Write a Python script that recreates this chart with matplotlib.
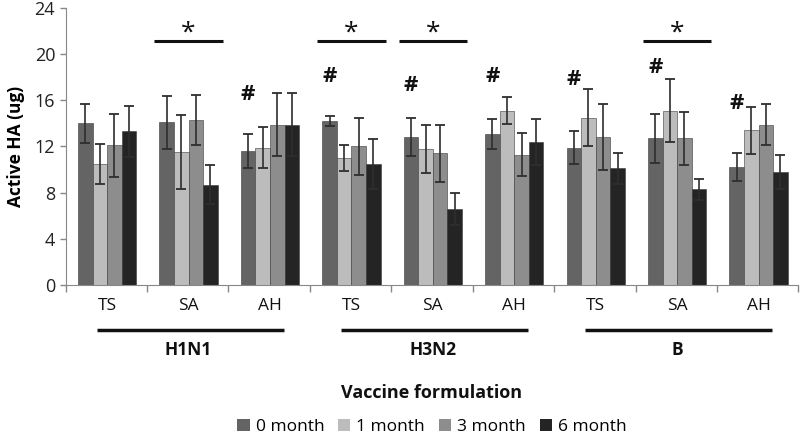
import numpy as np
import matplotlib.pyplot as plt
from matplotlib.patches import Patch

plt.rcParams['font.family'] = ['Open Sans', 'DejaVu Sans']

# groups: strain x formulation
strains = ["H1N1", "H3N2", "B"]
formulations = ["TS", "SA", "AH"]
months = ["0 month", "1 month", "3 month", "6 month"]

# mean active HA (ug) per group, one list per time point
m0 = [14.0, 14.1, 11.6, 14.2, 12.8, 13.1, 11.9, 12.7, 10.2]
m1 = [10.5, 11.5, 11.9, 11.0, 11.8, 15.1, 14.5, 15.1, 13.4]
m3 = [12.1, 14.3, 13.9, 12.0, 11.4, 11.3, 12.8, 12.7, 13.9]
m6 = [13.3, 8.7, 13.9, 10.5, 6.6, 12.4, 10.1, 8.3, 9.8]

# error bar half-lengths
e0 = [1.7, 2.3, 1.5, 0.45, 1.65, 1.3, 1.45, 2.15, 1.2]
e1 = [1.75, 3.2, 1.8, 1.1, 2.1, 1.15, 2.5, 2.75, 2.05]
e3 = [2.7, 2.2, 2.75, 2.45, 2.45, 1.85, 2.85, 2.3, 1.8]
e6 = [2.2, 1.7, 2.75, 2.15, 1.4, 2.0, 1.35, 0.9, 1.5]

# markers: '#' above 0 month bar, '*' over whole group
hash_groups = [2, 3, 4, 5, 6, 7, 8]
hash_y = [16.5, 18.1, 17.3, 18.1, 17.8, 18.8, 15.7]
star_groups = [1, 3, 4, 7]

colors = ["#646464", "#bcbcbc", "#8d8d8d", "#242424"]

fig = plt.figure(figsize=(8, 4.36), dpi=100)
ax = fig.add_axes([0.082, 0.346, 0.916, 0.636])

x = np.arange(9) + 0.51
w = 0.179
means = [m0, m1, m3, m6]
errs = [e0, e1, e3, e6]
for k in range(4):
    ax.bar(x + (k - 1.5) * w, means[k], w, color=colors[k],
           edgecolor="#3a3a3a", linewidth=0.4, zorder=2)
    ax.errorbar(x + (k - 1.5) * w, means[k], yerr=errs[k], fmt="none",
                ecolor="#2e2e2e", elinewidth=1.2, capsize=3.5, capthick=1.3,
                zorder=3)

for g, yv in zip(hash_groups, hash_y):
    ax.text(x[g] - 1.5 * w, yv, "#", ha="center", va="center",
            fontsize=16, fontweight="bold", color="#111111")

for g in star_groups:
    ax.plot([g + 0.09, g + 0.93], [21.1, 21.1], color="#111111", lw=2.2,
            solid_capstyle="butt")
    ax.text(g + 0.51, 21.8, "*", ha="center", va="center", fontsize=19,
            color="#111111")

ax.set_xlim(0, 9)
ax.set_ylim(0, 24)
ax.set_yticks(np.arange(0, 25, 4))
ax.set_xticks(np.arange(10))
ax.set_xticklabels([])
ax.tick_params(axis="y", labelsize=13, colors="#888888", labelcolor="#222222",
               length=4, width=1)
ax.tick_params(axis="x", length=5, width=1, colors="#888888")
for s in ["top", "right"]:
    ax.spines[s].set_visible(False)
for s in ["left", "bottom"]:
    ax.spines[s].set_color("#888888")
ax.set_ylabel("Active HA (ug)", fontsize=12.5, fontweight="bold", labelpad=7)

tr = ax.get_xaxis_transform()
for i, st in enumerate(strains):
    for j, f in enumerate(formulations):
        ax.text(3 * i + j + 0.51, -0.076, f, transform=tr, ha="center",
                va="center", fontsize=12.5, color="#111111")
    ax.plot([3 * i + 0.38, 3 * i + 2.68], [-0.162, -0.162], transform=tr,
            color="#111111", lw=2.5, clip_on=False, solid_capstyle="butt")
    ax.text(3 * i + 1.51, -0.235, st, transform=tr, ha="center", va="center",
            fontsize=12.5, fontweight="bold", color="#111111")

ax.text(4.5, -0.39, "Vaccine formulation", transform=tr, ha="center",
        va="center", fontsize=13, fontweight="bold", color="#111111")

handles = [Patch(facecolor=c, edgecolor="none") for c in colors]
ax.legend(handles, months, loc="center", bbox_to_anchor=(0.5, -0.513),
          ncol=4, frameon=False, fontsize=12.5, handlelength=0.7,
          handleheight=0.7, handletextpad=0.35, columnspacing=0.8)

fig.savefig("out.png", dpi=100)
